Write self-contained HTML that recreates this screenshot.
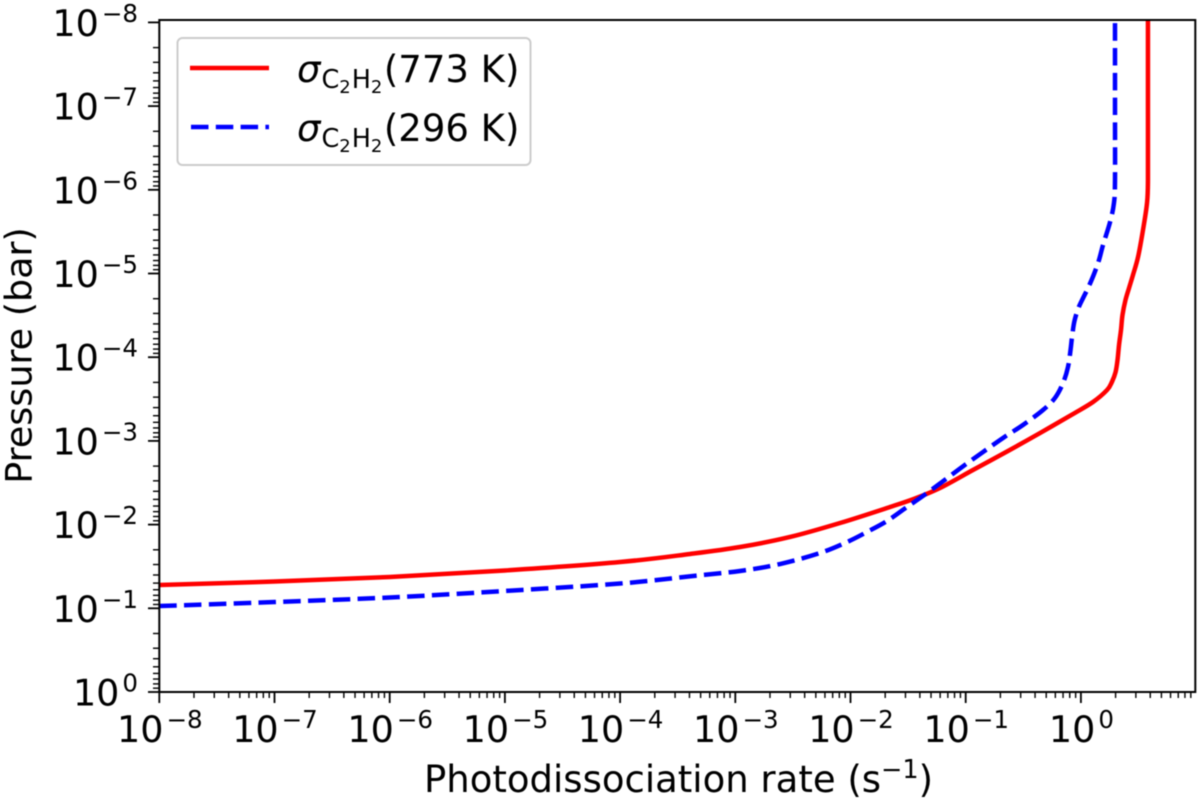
<!DOCTYPE html>
<html lang="en">
<head>
<meta charset="utf-8">
<title>Photodissociation rate vs pressure</title>
<style>
html,body{margin:0;padding:0;background:#fff;}
svg{display:block;font-family:"DejaVu Sans","Liberation Sans",sans-serif;filter:blur(0.45px);}
</style>
</head>
<body>
<svg id="chart" xmlns="http://www.w3.org/2000/svg" width="1200" height="801" viewBox="0 0 1200 801">
<rect x="0" y="0" width="1200" height="801" fill="#fff"/>
<defs><clipPath id="plot-clip"><rect x="159" y="20" width="1036" height="672"/></clipPath></defs>
<g id="ticks"></g>
<g id="series" clip-path="url(#plot-clip)"></g>
<rect x="159.3" y="20" width="1036" height="672" fill="none" stroke="#000" stroke-width="2"/>
<g id="tick-labels" font-size="36.5" fill="#000"></g>
<text x="424" y="792" font-size="37" fill="#000">Photodissociation rate (s<tspan font-size="25.5" dy="-14">−1</tspan><tspan dy="14">)</tspan></text>
<text transform="translate(31.5,355.5) rotate(-90)" text-anchor="middle" font-size="36.5" fill="#000">Pressure (bar)</text>
<g>
<rect x="177.5" y="38" width="353" height="127" rx="5" ry="5" fill="#fff" fill-opacity="0.8" stroke="#ccc" stroke-width="2"/>
<line x1="190" y1="68" x2="269" y2="68" stroke="#ff0000" stroke-width="4.5"/>
<line x1="191" y1="127" x2="269" y2="127" stroke="#0000ff" stroke-width="4.5" stroke-dasharray="17.5 7.3"/>
<text x="297" y="82" font-size="37" fill="#000"><tspan font-style="italic">σ</tspan><tspan font-size="25.5" dy="6" dx="1">C</tspan><tspan font-size="18" dy="5">2</tspan><tspan font-size="25.5" dy="-5" dx="1">H</tspan><tspan font-size="18" dy="5">2</tspan><tspan dy="-11" dx="1.5">(773 K)</tspan></text>
<text x="297" y="141" font-size="37" fill="#000"><tspan font-style="italic">σ</tspan><tspan font-size="25.5" dy="6" dx="1">C</tspan><tspan font-size="18" dy="5">2</tspan><tspan font-size="25.5" dy="-5" dx="1">H</tspan><tspan font-size="18" dy="5">2</tspan><tspan dy="-11" dx="1.5">(296 K)</tspan></text>
</g>
</svg>
<script>
// log10 of the photodissociation rate (s^-1) and log10 of the pressure (bar)
const rate773 = [-8.00,-7.00,-6.00,-5.00,-4.00,-3.393,-2.959,-2.525,-2.091,-1.657,-1.440,-1.223,-0.937,-0.641,-0.355,-0.069,0.105,0.227,0.269,0.301,0.318,0.331,0.348,0.361,0.387,0.418,0.452,0.496,0.539,0.574,0.582,0.582,0.582];
const pressure773 = [-1.278,-1.320,-1.374,-1.452,-1.553,-1.649,-1.732,-1.852,-2.019,-2.210,-2.312,-2.437,-2.652,-2.873,-3.094,-3.321,-3.465,-3.608,-3.704,-3.823,-3.967,-4.146,-4.325,-4.504,-4.683,-4.827,-4.982,-5.197,-5.520,-5.842,-6.117,-7.00,-8.05];
const rate296 = [-8.00,-7.00,-6.00,-5.00,-4.00,-3.367,-2.959,-2.612,-2.265,-2.030,-1.857,-1.683,-1.510,-1.371,-1.206,-1.032,-0.850,-0.676,-0.503,-0.329,-0.225,-0.155,-0.112,-0.090,-0.077,-0.056,-0.021,0.019,0.062,0.114,0.157,0.192,0.253,0.287,0.296,0.296,0.296];
const pressure296 = [-1.027,-1.075,-1.129,-1.207,-1.296,-1.386,-1.446,-1.529,-1.661,-1.792,-1.912,-2.043,-2.210,-2.342,-2.509,-2.688,-2.867,-3.035,-3.190,-3.369,-3.513,-3.692,-3.883,-4.086,-4.241,-4.432,-4.588,-4.707,-4.827,-4.994,-5.161,-5.341,-5.615,-5.842,-6.117,-7.00,-8.05];
const xTickExponents = [-8,-7,-6,-5,-4,-3,-2,-1,0];
const yTickExponents = [-8,-7,-6,-5,-4,-3,-2,-1,0];
const minorMultipliers = [2,3,4,5,6,7,8,9];

const SVGNS = 'http://www.w3.org/2000/svg';
function xScale(v){ return 159.3 + (v + 8) * 115.2; }
function yScale(v){ return 692 + v * 83.7; }

function smoothPath(xs, ys){
  let d = 'M' + xScale(xs[0]).toFixed(2) + ' ' + yScale(ys[0]).toFixed(2);
  const n = xs.length;
  for (let i = 0; i < n - 1; i++){
    const p0x = xScale(xs[Math.max(i-1,0)]), p0y = yScale(ys[Math.max(i-1,0)]);
    const p1x = xScale(xs[i]), p1y = yScale(ys[i]);
    const p2x = xScale(xs[i+1]), p2y = yScale(ys[i+1]);
    const p3x = xScale(xs[Math.min(i+2,n-1)]), p3y = yScale(ys[Math.min(i+2,n-1)]);
    const c1x = p1x + (p2x - p0x) / 6, c1y = p1y + (p2y - p0y) / 6;
    const c2x = p2x - (p3x - p1x) / 6, c2y = p2y - (p3y - p1y) / 6;
    d += 'C' + c1x.toFixed(2) + ' ' + c1y.toFixed(2) + ' ' + c2x.toFixed(2) + ' ' + c2y.toFixed(2) + ' ' + p2x.toFixed(2) + ' ' + p2y.toFixed(2);
  }
  return d;
}

const seriesGroup = document.getElementById('series');
const tickGroup = document.getElementById('ticks');
const labelGroup = document.getElementById('tick-labels');

const line773 = document.createElementNS(SVGNS, 'path');


line773.setAttribute('d', smoothPath(rate773, pressure773));
line773.setAttribute('fill', 'none');
line773.setAttribute('stroke', '#ff0000');
line773.setAttribute('stroke-width', '4.5');
seriesGroup.appendChild(line773);

const line296 = document.createElementNS(SVGNS, 'path');


line296.setAttribute('d', smoothPath(rate296, pressure296));
line296.setAttribute('fill', 'none');
line296.setAttribute('stroke', '#0000ff');
line296.setAttribute('stroke-width', '4.5');
line296.setAttribute('stroke-dasharray', '17.5 7.3');
seriesGroup.appendChild(line296);

function addTick(x1, y1, x2, y2, width){
  const t = document.createElementNS(SVGNS, 'line');
  
  
  t.setAttribute('x1', x1);
  t.setAttribute('y1', y1);
  t.setAttribute('x2', x2);
  t.setAttribute('y2', y2);
  t.setAttribute('stroke', '#000');
  t.setAttribute('stroke-width', width);
  tickGroup.appendChild(t);
}

function addLabel(name, x, y, anchor, exponent){
  const t = document.createElementNS(SVGNS, 'text');
  
  
  t.setAttribute('x', x);
  t.setAttribute('y', y);
  t.setAttribute('text-anchor', anchor);
  t.appendChild(document.createTextNode('10'));
  const sup = document.createElementNS(SVGNS, 'tspan');
  sup.setAttribute('font-size', '24.5');
  sup.setAttribute('dy', '-14');
  sup.setAttribute('dx', '3');
  sup.textContent = String(exponent).replace('-', '−');
  t.appendChild(sup);
  labelGroup.appendChild(t);
}

xTickExponents.forEach(function(e){
  const px = xScale(e);
  addTick(px, 692, px, 703, 1.8);
  minorMultipliers.forEach(function(m){
    const mx = xScale(e + Math.log10(m));
    if (mx < 1195) addTick(mx, 692, mx, 698, 1.4);
  });
  addLabel('x-tick-label', px + 0.5, 742, 'middle', e);
});

yTickExponents.forEach(function(e){
  const py = yScale(e);
  addTick(148, py, 159, py, 1.8);
  if (e < 0){
    minorMultipliers.forEach(function(m){
      const my = yScale(e + Math.log10(m));
      addTick(153, my, 159, my, 1.4);
    });
  }
  addLabel('y-tick-label', 138, py + 13.5, 'end', e);
});
</script>
</body>
</html>
